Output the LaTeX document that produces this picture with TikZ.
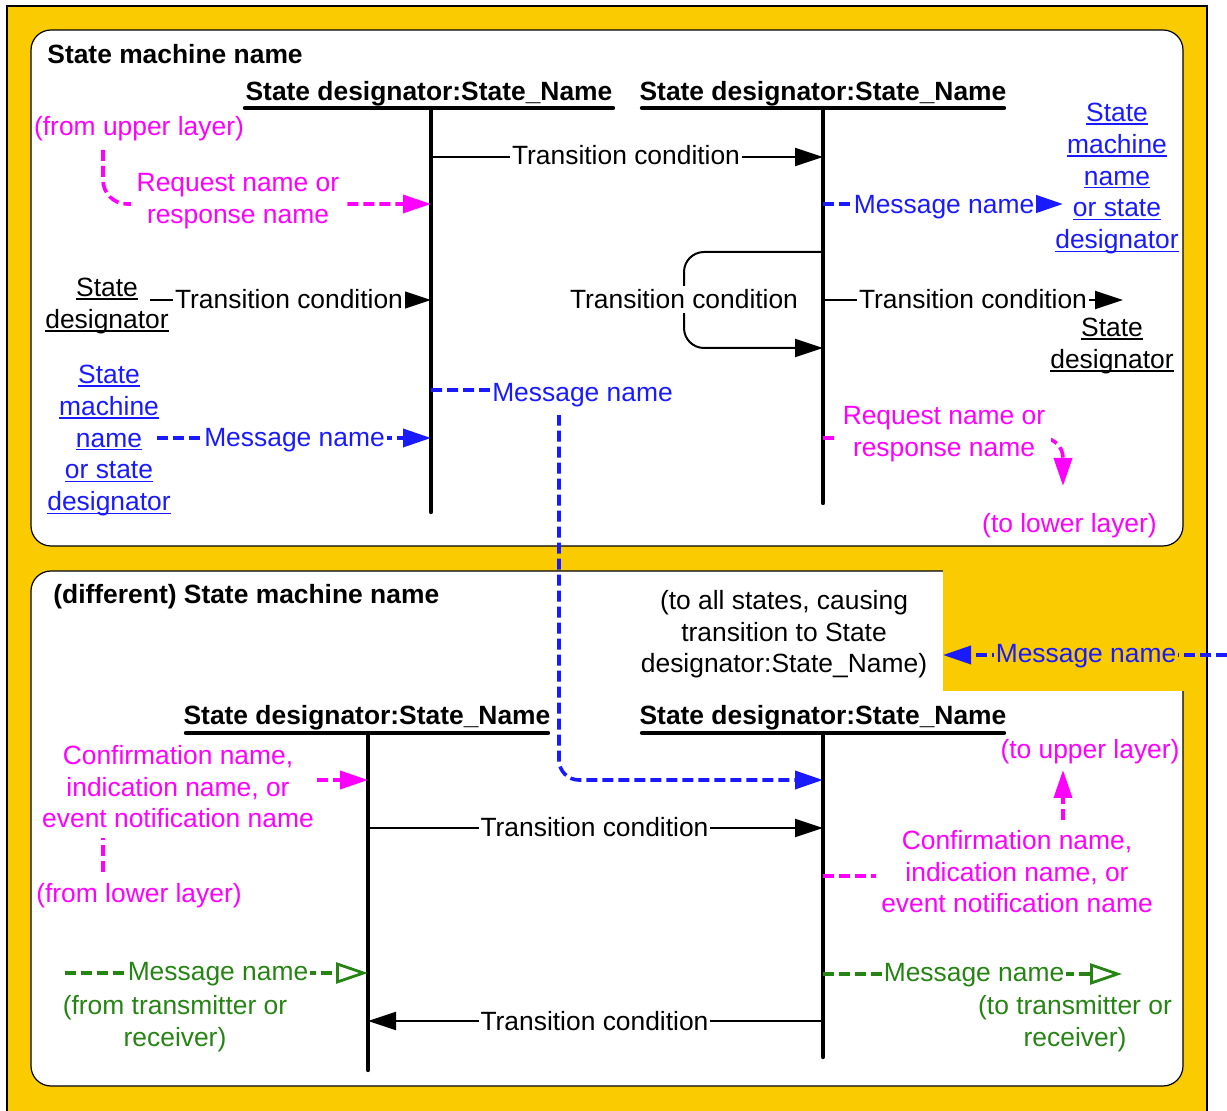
\documentclass[tikz,border=0pt]{standalone}
\usepackage{fontspec}
\setmainfont{Liberation Sans}
\usetikzlibrary{arrows.meta}
\definecolor{ybg}{RGB}{250,204,0}
\definecolor{mag}{RGB}{255,0,255}
\definecolor{blu}{RGB}{26,26,255}
\definecolor{grn}{RGB}{38,132,20}
\newcommand\lnk[1]{\setbox0=\hbox{#1}\rlap{\rule[-1.6pt]{\wd0}{0.7pt}}\box0}
\begin{document}
\begin{tikzpicture}[x=0.5pt,y=-0.5pt,
  txt/.style={font=\fontsize{13.2pt}{15.9pt}\selectfont, inner sep=0pt, align=center},
  hdr/.style={font=\fontsize{13.2pt}{15.9pt}\selectfont\bfseries, inner sep=0pt},
  lbl/.style={txt, fill=white, inner xsep=1pt, inner ysep=2pt},
  life/.style={line width=2.2pt, line cap=round},
  tc/.style={line width=1pt},
  tip/.style={-{Triangle[length=14pt,width=9pt]}},
  otip/.style={-{Triangle[open,length=16pt,width=10.5pt,line width=1.4pt]}},
  mdash/.style={mag, line width=1.8pt, dash pattern=on 5.5pt off 2.5pt},
  bdash/.style={blu, line width=1.8pt, dash pattern=on 5.5pt off 2.5pt},
  gdash/.style={grn, line width=1.8pt, dash pattern=on 5.5pt off 2.5pt},
  box/.style={fill=white, draw=black, line width=0.6pt, rounded corners=10pt}]
\useasboundingbox (0,0) rectangle (1227,1111);
\clip (0,0) rectangle (1227,1111);
% background
\fill[white] (0,0) rectangle (1227,1111);
\draw[fill=ybg, line width=0.6pt] (7,6) rectangle (1207,1130);
\draw[box] (31,30) rectangle (1183,546);
\draw[box] (31,571) rectangle (1183,1086);
\fill[ybg] (943,569) rectangle (1185,691);

% ===== upper state machine =====
\node[hdr, anchor=base west] (smn) at (47,64) {State machine name};
\node[hdr, anchor=base] (h1) at (429,101) {State designator:State\_Name};
\node[hdr, anchor=base] (h2) at (823,101) {State designator:State\_Name};
\draw[life] (245,108) -- (613,108);
\draw[life] (642,108) -- (1004,108);
\coordinate (l1top) at (431,108); \coordinate (l1bot) at (431,512);
\coordinate (l2top) at (823,108); \coordinate (l2bot) at (823,503);
\draw[life] (l1top) -- (l1bot);
\draw[life] (l2top) -- (l2bot);

% transition between lifelines
\coordinate (a1s) at (431,157); \coordinate (a1e) at (823,157);
\draw[tc, tip] (a1s) -- (a1e);
\node[lbl, anchor=base] (t1) at (626,165) {Transition condition};

% from upper layer
\node[txt, mag, anchor=base] (ful) at (139,136) {(from upper layer)};
\coordinate (m1s) at (103,150); \coordinate (m1e) at (431,204);
\draw[mdash, tip, rounded corners=12pt] (m1s) -- (103,204) -- (m1e);
\node[txt, mag, fill=white, anchor=north, inner sep=3pt] (req1) at (238,166.7) {Request name or\\response name};

% message right top
\coordinate (b1s) at (823,204); \coordinate (b1e) at (1063,204);
\draw[bdash, tip] (b1s) -- (b1e);
\node[txt, blu, fill=white, anchor=base, inner xsep=1pt, inner ysep=2pt] (mn1) at (944,214) {Message name};
\node[txt, blu, anchor=north] (smd1) at (1117,102.7) {\lnk{State}\\\lnk{machine}\\\lnk{name}\\\lnk{or state}\\\lnk{designator}};

% state designator -> left lifeline
\node[txt, anchor=north] (sd1) at (107,277.7) {\lnk{State}\\\lnk{designator}};
\coordinate (c2s) at (150,300); \coordinate (c2e) at (431,300);
\draw[tc, tip] (c2s) -- (c2e);
\node[lbl, anchor=base] (t2) at (289,309) {Transition condition};

% self transition
\coordinate (s1) at (823,252); \coordinate (s2) at (823,348);
\draw[tc, tip, rounded corners=10pt] (s1) -- (684,252) -- (684,348) -- (s2);
\node[lbl, anchor=base] (t3) at (684,309) {Transition condition};

% right lifeline -> state designator
\coordinate (c4s) at (823,300); \coordinate (c4e) at (1123,300);
\draw[tc, tip] (c4s) -- (c4e);
\node[lbl, anchor=base] (t4) at (973,309) {Transition condition};
\node[txt, anchor=north] (sd2) at (1112,317.7) {\lnk{State}\\\lnk{designator}};

% blue message to lower machine
\coordinate (b2s) at (431,390); \coordinate (b2e) at (823,780);
\draw[bdash, tip, rounded corners=10pt] (b2s) -- (559,390) -- (559,780) -- (b2e);
\node[txt, blu, fill=white, anchor=base, inner xsep=1pt, inner ysep=4pt] (mn2) at (582.5,402) {Message name};

% blue message from left
\node[txt, blu, anchor=north] (smd2) at (109,364.7) {\lnk{State}\\\lnk{machine}\\\lnk{name}\\\lnk{or state}\\\lnk{designator}};
\coordinate (b3s) at (157,438); \coordinate (b3e) at (431,438);
\draw[bdash, tip] (b3s) -- (b3e);
\node[txt, blu, fill=white, anchor=base, inner xsep=1pt, inner ysep=2pt] (mn3) at (294.5,447) {Message name};

% request to lower layer
\coordinate (m2s) at (823,438); \coordinate (m2e) at (1063,486);
\draw[mdash, tip, rounded corners=10pt] (m2s) -- (1063,438) -- (m2e);
\node[txt, mag, fill=white, anchor=north, inner sep=3pt] (req2) at (944,399.7) {Request name or\\response name};
\node[txt, mag, anchor=base] (tll) at (1069.5,533) {(to lower layer)};

% ===== lower state machine =====
\node[hdr, anchor=base west] (dsmn) at (53,604) {(different) State machine name};
\node[txt, anchor=north] (tas) at (784,589.7) {(to all states, causing\\transition to State\\designator:State\_Name)};
\coordinate (b4s) at (1227,655); \coordinate (b4e) at (943,655);
\draw[bdash, tip] (b4s) -- (b4e);
\node[txt, blu, fill=ybg, anchor=base, inner xsep=1pt, inner ysep=2pt] (mn4) at (1086,663) {Message name};

\node[hdr, anchor=base] (h3) at (367,725) {State designator:State\_Name};
\node[hdr, anchor=base] (h4) at (823,725) {State designator:State\_Name};
\draw[life] (186,733) -- (548,733);
\draw[life] (642,733) -- (1004,733);
\coordinate (l3top) at (368,733); \coordinate (l3bot) at (368,1070);
\coordinate (l4top) at (823,733); \coordinate (l4bot) at (823,1057);
\draw[life] (l3top) -- (l3bot);
\draw[life] (l4top) -- (l4bot);

% confirmation from lower layer
\node[txt, mag, anchor=north] (cin1) at (178,744.7) {Confirmation name,\\indication name, or\\event notification name};
\coordinate (m3s) at (317,780); \coordinate (m3e) at (368,780);
\draw[mdash, tip] (m3s) -- (m3e);
\coordinate (m4s) at (103,872); \coordinate (m4e) at (103,838);
\draw[mdash] (m4s) -- (m4e);
\node[txt, mag, anchor=base] (fll) at (139,903) {(from lower layer)};

% transition left -> right
\coordinate (a5s) at (368,828); \coordinate (a5e) at (823,828);
\draw[tc, tip] (a5s) -- (a5e);
\node[lbl, anchor=base] (t5) at (594.5,837) {Transition condition};

% confirmation to upper layer
\node[txt, mag, anchor=base] (tul) at (1090,759) {(to upper layer)};
\coordinate (m5s) at (1063,820); \coordinate (m5e) at (1063,770);
\draw[mdash, tip] (m5s) -- (m5e);
\node[txt, mag, anchor=north] (cin2) at (1017,829.7) {Confirmation name,\\indication name, or\\event notification name};
\coordinate (m6s) at (823,876); \coordinate (m6e) at (876,876);
\draw[mdash] (m6s) -- (m6e);

% green messages
\coordinate (g1s) at (65,973); \coordinate (g1e) at (368,973);
\draw[gdash, otip] (g1s) -- (g1e);
\node[txt, grn, fill=white, anchor=base, inner xsep=1pt, inner ysep=2pt] (gm1) at (218,981) {Message name};
\node[txt, grn, anchor=north] (ftr) at (175,994.7) {(from transmitter or\\receiver)};
\coordinate (g2s) at (823,974); \coordinate (g2e) at (1122,974);
\draw[gdash, otip] (g2s) -- (g2e);
\node[txt, grn, fill=white, anchor=base, inner xsep=1pt, inner ysep=2pt] (gm2) at (974,982) {Message name};
\node[txt, grn, anchor=north] (ttr) at (1075,994.7) {(to transmitter or\\receiver)};

% transition right -> left
\coordinate (a6s) at (823,1021); \coordinate (a6e) at (368,1021);
\draw[tc, tip] (a6s) -- (a6e);
\node[lbl, anchor=base] (t6) at (594.5,1030) {Transition condition};
\end{tikzpicture}
\end{document}
